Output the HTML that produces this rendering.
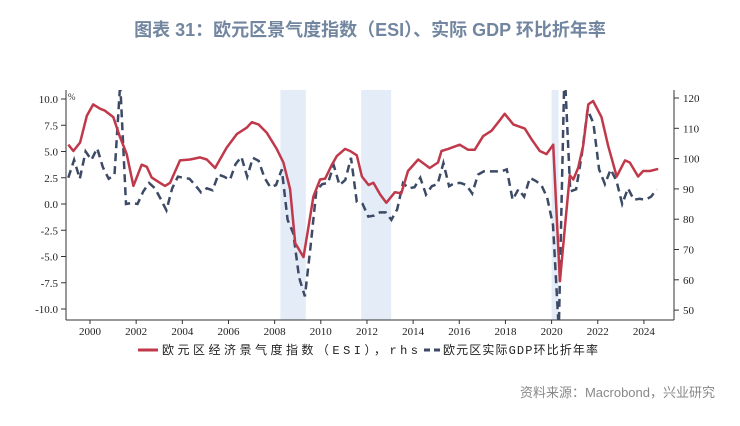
<!DOCTYPE html>
<html><head><meta charset="utf-8">
<style>
body{margin:0;background:#fff;width:740px;height:421px;overflow:hidden;font-family:"Liberation Sans","Noto Sans CJK SC",sans-serif;}
svg text{font-family:"Liberation Serif","Noto Sans CJK SC",serif;}
</style></head>
<body>
<svg id="chart" width="740" height="421" xmlns="http://www.w3.org/2000/svg">
<text x="370" y="36" text-anchor="middle" font-size="18" font-weight="bold" fill="#7286a0" style="font-family:'Liberation Sans','Noto Sans CJK SC',sans-serif">图表  31：欧元区景气度指数（ESI）、实际 GDP 环比折年率</text>
<g id="bands"></g>
<g id="axes"></g>
<g id="series"></g>
<g>
<line x1="138" y1="350" x2="158" y2="350" stroke="#c0394b" stroke-width="3"/>
<text x="162" y="354" font-size="12" fill="#222" textLength="256" lengthAdjust="spacing" style="font-family:'Liberation Mono','Noto Sans CJK SC',monospace">欧元区经济景气度指数（ESI），rhs</text>
<line x1="424" y1="350" x2="441" y2="350" stroke="#3d4a66" stroke-width="3" stroke-dasharray="6 4"/>
<text x="443" y="354" font-size="12" fill="#222" textLength="155" lengthAdjust="spacing" style="font-family:'Liberation Mono','Noto Sans CJK SC',monospace">欧元区实际GDP环比折年率</text>
</g>
<text x="715" y="397" text-anchor="end" font-size="13" fill="#888" style="font-family:'Liberation Sans','Noto Sans CJK SC',sans-serif">资料来源：Macrobond，兴业研究</text>
</svg>
<script>
const gdpStart = 1999;
const gdpValues = [2.5,4.2,2.4,5.0, 4.2,5.3,3.5,2.4, 2.8,11.5,0.0,0.1, 0.0,1.2,2.0,1.5, 0.5,-0.6,1.5,2.6, 2.5,2.4,1.8,1.1, 1.5,1.3,2.8,2.6, 2.3,3.8,4.5,2.6, 4.4,4.1,2.5,1.6, 1.8,3.3,-1.5,-2.8, -7.0,-8.8,-4.0,1.3, 1.9,2.0,3.7,1.8, 2.3,4.4,0.2,0.0, -1.2,-1.1,-0.8,-0.8, -1.5,-0.5,2.0,1.5, 1.6,2.5,0.9,1.7, 1.9,3.9,1.7,2.0, 2.0,1.8,1.0,2.8, 3.1,3.1,3.1,3.1, 3.3,0.4,1.4,0.7, 2.5,2.2,1.8,0.6, -2.0,-12.0,13.0,1.2, 1.4,4.7,9.0,7.7, 3.3,1.9,3.3,2.2, 0.0,1.5,0.4,0.5, 0.4,0.7,1.4];
const esiDates = [1999.06,1999.28,1999.57,1999.86,2000.14,2000.43,2000.65,2001.01,2001.30,2001.59,2001.88,2002.24,2002.46,2002.67,2003.03,2003.25,2003.47,2003.90,2004.34,2004.77,2005.06,2005.42,2005.92,2006.36,2006.79,2007.01,2007.30,2007.66,2008.09,2008.38,2008.67,2008.89,2009.25,2009.47,2009.68,2009.97,2010.19,2010.48,2010.69,2011.05,2011.27,2011.56,2011.78,2012.07,2012.28,2012.57,2012.84,2013.21,2013.49,2013.78,2014.22,2014.72,2015.08,2015.23,2015.52,2016.02,2016.38,2016.67,2017.03,2017.40,2017.76,2017.97,2018.34,2018.84,2019.13,2019.49,2019.78,2020.07,2020.36,2020.58,2020.79,2020.94,2021.15,2021.37,2021.59,2021.80,2022.16,2022.45,2022.82,2023.18,2023.39,2023.75,2023.97,2024.26,2024.62];
const esiValues = [104.6,102.5,105.3,114.1,117.9,116.5,115.8,113.7,107.1,101.5,91.0,98.0,97.3,93.8,92.0,91.0,92.0,99.4,99.7,100.4,99.7,96.9,103.6,108.1,110.2,112.0,111.3,108.5,103.2,98.7,89.9,72.1,67.5,77.7,87.5,93.1,93.4,98.0,100.8,103.2,102.5,101.1,94.1,91.3,92.0,88.2,85.4,88.9,88.5,95.9,99.7,96.9,98.7,102.5,103.2,104.6,102.9,102.9,107.4,109.2,112.7,114.8,111.3,109.9,106.4,102.5,101.5,104.6,59.5,77.7,94.5,93.1,96.9,104.3,117.9,119.0,113.7,104.3,94.1,99.4,98.7,94.1,95.9,95.9,96.6];
const leftTicks = [10.0,7.5,5.0,2.5,0.0,-2.5,-5.0,-7.5,-10.0];
const rightTicks = [120,110,100,90,80,70,60,50];
const yearTicks = [2000,2002,2004,2006,2008,2010,2012,2014,2016,2018,2020,2022,2024];
const bandStarts = [2008.25,2011.75,2020.0];
const bandEnds = [2009.35,2013.05,2020.3];

const NS="http://www.w3.org/2000/svg";
const PL=66, PR=674, PT=90, PB=320;
const xS = y => 90 + (y-2000)*23.08;
const yL = v => 99 + (10-v)*10.5;
const yR = v => 98 + (120-v)*3.03;
function mk(tag, attrs, parent){const e=document.createElementNS(NS,tag);for(const k in attrs)e.setAttribute(k,attrs[k]);parent.appendChild(e);return e;}
const svg=document.getElementById('chart');
const defs=mk('defs',{},svg);
const cp=mk('clipPath',{id:'clip'},defs);
mk('rect',{x:PL,y:PT,width:PR-PL,height:PB-PT},cp);

const bands=document.getElementById('bands');
bandStarts.forEach((s,i)=>{
  const r=mk('rect',{x:xS(s),y:PT,width:xS(bandEnds[i])-xS(s),height:PB-PT,fill:'#e3ecf7'},bands);
  
  
});

const axes=document.getElementById('axes');
const la=mk('line',{x1:PL,y1:PT,x2:PL,y2:PB,stroke:'#333','stroke-width':1},axes);


const ra=mk('line',{x1:PR,y1:PT,x2:PR,y2:PB,stroke:'#333','stroke-width':1},axes);


const ba=mk('line',{x1:PL,y1:PB,x2:PR,y2:PB,stroke:'#333','stroke-width':1},axes);


const pct=mk('text',{x:PL+2,y:PT+10,'font-size':9,fill:'#333'},axes);pct.textContent='%';


leftTicks.forEach(v=>{
  mk('line',{x1:PL-5,y1:yL(v),x2:PL,y2:yL(v),stroke:'#333'},axes);
  const t=mk('text',{x:PL-8,y:yL(v)+4,'text-anchor':'end','font-size':11,fill:'#222'},axes);
  t.textContent=v.toFixed(1);
  
  
});
rightTicks.forEach(v=>{
  mk('line',{x1:PR,y1:yR(v),x2:PR+5,y2:yR(v),stroke:'#333'},axes);
  const t=mk('text',{x:PR+9,y:yR(v)+4,'font-size':11,fill:'#222'},axes);
  t.textContent=v;
  
  
});
yearTicks.forEach(y=>{
  mk('line',{x1:xS(y),y1:PB,x2:xS(y),y2:PB+4,stroke:'#333'},axes);
  const t=mk('text',{x:xS(y),y:PB+15,'text-anchor':'middle','font-size':11,fill:'#222'},axes);
  t.textContent=y;
  
  
});

const series=document.getElementById('series');
const gdpPts=gdpValues.map((v,i)=>xS(gdpStart+i*0.25+0.06).toFixed(1)+','+yL(v).toFixed(1)).join(' ');
const gl=mk('polyline',{points:gdpPts,fill:'none',stroke:'#3d4a66','stroke-width':2.5,'stroke-dasharray':'8 5','clip-path':'url(#clip)'},series);


const esiPts=esiValues.map((v,i)=>xS(esiDates[i]).toFixed(1)+','+yR(v).toFixed(1)).join(' ');
const el=mk('polyline',{points:esiPts,fill:'none',stroke:'#c0394b','stroke-width':2.5,'stroke-linejoin':'round','clip-path':'url(#clip)'},series);


</script>
</body></html>
